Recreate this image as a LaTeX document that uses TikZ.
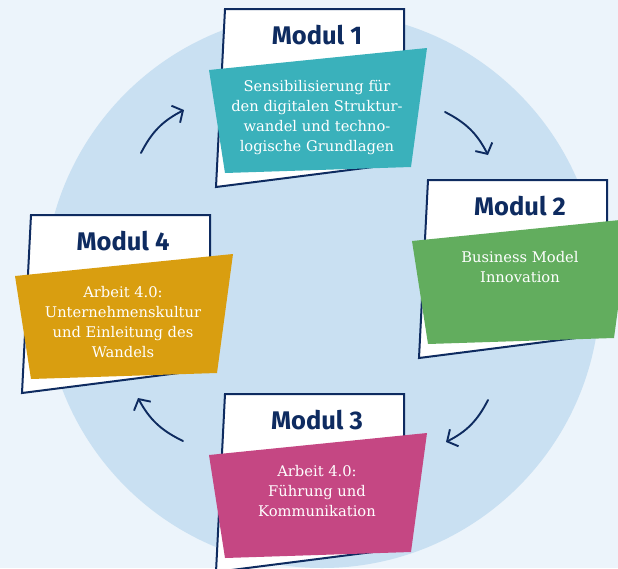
\documentclass[tikz,border=0pt]{standalone}
\usepackage{fontspec}
\setmainfont{DejaVu Serif}
\newfontfamily\titlefont{Fira Sans}
\usetikzlibrary{arrows.meta}
\usetikzlibrary{positioning}
\definecolor{bgblue}{HTML}{ECF4FB}
\definecolor{circblue}{HTML}{C9E0F2}
\definecolor{navy}{HTML}{0E2B60}
\definecolor{modteal}{HTML}{3AB1BB}
\definecolor{modgreen}{HTML}{62AD5E}
\definecolor{modpink}{HTML}{C54783}
\definecolor{modgold}{HTML}{D99E10}

\begin{document}
\begin{tikzpicture}[x=1pt,y=-1pt,
    whitebox/.style={draw=navy, line width=2pt, fill=white},
    title/.style={font=\titlefont\bfseries\fontsize{25.5}{25.5}\selectfont, text=navy, inner sep=0pt},
    body/.style={font=\fontsize{14.7}{20}\selectfont, text=white, align=center, inner sep=0pt, anchor=north},
    cyc/.style={-{Straight Barb[length=8pt,width=19pt]}, draw=navy, line width=1.9pt, line cap=round}]
    \useasboundingbox (0,0) rectangle (618,568);
    \clip (0,0) rectangle (618,568);
    \fill[bgblue] (0,0) rectangle (618,568);
    \fill[circblue] (322,290) circle[radius=278];

    % module cards
    \foreach \mx/\my/\col/\num in {225/9/modteal/1, 428/180/modgreen/2, 225/394/modpink/3, 31/215/modgold/4} {
        \begin{scope}[shift={(\mx,\my)}]
            \draw[whitebox] (0,0) -- (179,0) -- (179,154) -- (-9,178) -- cycle;
            \fill[\col] (-16,61) -- (202,39) -- (186,158) -- (0,164) -- cycle;
            \node[title] (m\num title) at (92,26) {Modul \num};
        \end{scope}
    }

    \node[body] (m1text) at (317,80) {Sensibilisierung für\\den digitalen Struktur-\\wandel und techno-\\logische Grundlagen};
    \node[body] (m2text) at (520,251) {Business Model\\Innovation};
    \node[body] (m3text) at (317,465) {Arbeit 4.0:\\Führung und\\Kommunikation};
    \node[body] (m4text) at (123,286) {Arbeit 4.0:\\Unternehmenskultur\\und Einleitung des\\Wandels};

    % cycle arrows
    \coordinate (a1s) at (445,112);
    \coordinate (a1e) at (488,155);
    \coordinate (a2s) at (488,400);
    \coordinate (a2e) at (446,442);
    \coordinate (a3s) at (183,441);
    \coordinate (a3e) at (138,398);
    \coordinate (a4s) at (141,153);
    \coordinate (a4e) at (184,110);
    \draw[cyc] (a1s) to[bend left=18] (a1e);
    \draw[cyc] (a2s) to[bend left=18] (a2e);
    \draw[cyc] (a3s) to[bend left=18] (a3e);
    \draw[cyc] (a4s) to[bend left=18] (a4e);
\end{tikzpicture}
\end{document}
